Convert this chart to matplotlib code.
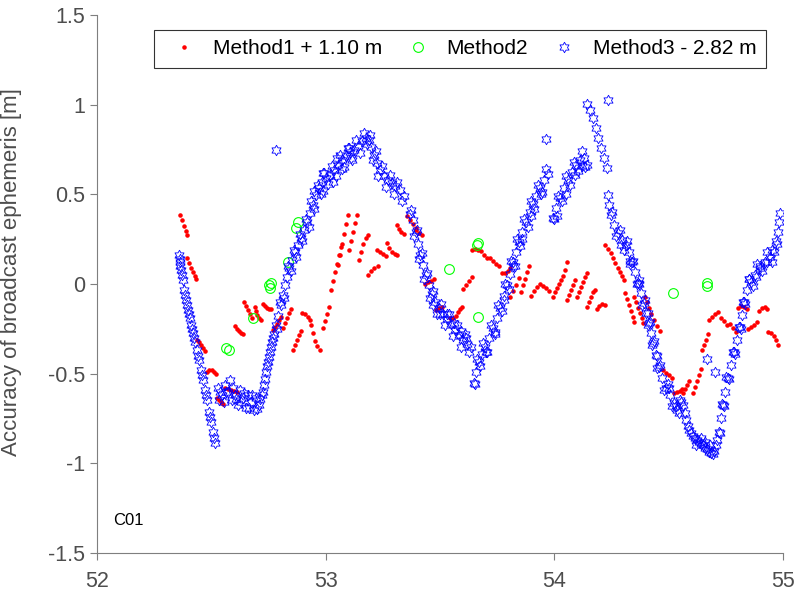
import matplotlib.pyplot as plt
from matplotlib.path import Path
import numpy as np

plt.rcParams['font.family'] = ['Liberation Sans Narrow', 'Liberation Sans', 'DejaVu Sans']

# ---- Method1 + 1.10 m (red dots) ----
m1_x = [52.363, 52.372, 52.380, 52.389, 52.394,
        52.394, 52.402, 52.411, 52.420, 52.429, 52.433,
        52.437, 52.446, 52.455, 52.464, 52.472,
        52.481, 52.490, 52.503, 52.512, 52.520,
        52.525, 52.534, 52.542, 52.551,
        52.560, 52.573, 52.586, 52.599, 52.612,
        52.603, 52.612, 52.621, 52.630, 52.638,
        52.643, 52.652, 52.660, 52.669, 52.678,
        52.691, 52.695, 52.700, 52.708, 52.717,
        52.726, 52.735, 52.743, 52.752, 52.761,
        52.770, 52.778, 52.787, 52.796, 52.805,
        52.813, 52.822, 52.831, 52.840, 52.848,
        52.857, 52.866, 52.875, 52.883, 52.892,
        52.896, 52.910, 52.923, 52.931,
        52.936, 52.945, 52.953, 52.962, 52.975,
        52.988, 52.997, 53.006, 53.014, 53.023, 53.032, 53.041, 53.049, 53.058, 53.067,
        53.054, 53.063, 53.071, 53.080, 53.089, 53.098,
        53.102, 53.111, 53.120, 53.128, 53.137,
        53.146, 53.154, 53.163, 53.176, 53.185,
        53.185, 53.198, 53.211, 53.229,
        53.224, 53.238, 53.251, 53.264,
        53.268, 53.277, 53.290, 53.303, 53.312,
        53.312, 53.321, 53.329, 53.342,
        53.356, 53.369, 53.382, 53.395,
        53.395, 53.408, 53.421,
        53.434, 53.447, 53.461, 53.474,
        53.482, 53.496, 53.509,
        53.544, 53.557, 53.570, 53.579, 53.588, 53.596,
        53.600, 53.614, 53.627, 53.640,
        53.640, 53.653, 53.666, 53.679, 53.692, 53.706, 53.719, 53.732, 53.745, 53.758,
        53.771, 53.784, 53.797, 53.806,
        53.806, 53.819, 53.832, 53.845,
        53.854, 53.863, 53.872, 53.880, 53.889,
        53.898, 53.911, 53.924, 53.937, 53.950, 53.963, 53.976,
        53.994, 54.003, 54.012, 54.020, 54.029, 54.038, 54.047, 54.055,
        54.055, 54.064, 54.073, 54.082, 54.090,
        54.099, 54.108, 54.117, 54.125, 54.134, 54.143,
        54.143, 54.151, 54.160, 54.169, 54.178,
        54.186, 54.195, 54.208, 54.222,
        54.222, 54.235, 54.248, 54.257, 54.265, 54.278, 54.287, 54.296, 54.305,
        54.309, 54.318, 54.326, 54.335, 54.344, 54.348,
        54.348, 54.357, 54.366, 54.375, 54.383, 54.388,
        54.396, 54.405, 54.414, 54.423, 54.436, 54.449, 54.462,
        54.475, 54.488, 54.501, 54.514,
        54.523, 54.536, 54.549, 54.558,
        54.562, 54.571, 54.580, 54.589,
        54.606, 54.615, 54.624, 54.633, 54.641,
        54.645, 54.654, 54.663, 54.672,
        54.676, 54.689, 54.702, 54.716,
        54.729, 54.742, 54.755, 54.768, 54.781, 54.795,
        54.803, 54.816, 54.830, 54.843,
        54.847, 54.860, 54.873, 54.886,
        54.895, 54.908, 54.921, 54.930,
        54.934, 54.947, 54.961, 54.969, 54.978]
m1_y = [0.385, 0.357, 0.323, 0.296, 0.273,
        0.145, 0.117, 0.089, 0.067, 0.045, 0.028,
        -0.312, -0.323, -0.340, -0.357, -0.374,
        -0.491, -0.480, -0.480, -0.491, -0.502,
        -0.636, -0.647, -0.658, -0.669,
        -0.580, -0.586, -0.591, -0.597, -0.602,
        -0.234, -0.251, -0.262, -0.273, -0.279,
        -0.100, -0.123, -0.145, -0.167, -0.190,
        -0.128, -0.151, -0.173, -0.190, -0.201,
        -0.112, -0.123, -0.134, -0.140, -0.140,
        -0.257, -0.240, -0.223, -0.201, -0.184,
        -0.245, -0.217, -0.190, -0.162, -0.140,
        -0.368, -0.340, -0.312, -0.284, -0.262,
        -0.162, -0.167, -0.184, -0.201,
        -0.229, -0.273, -0.318, -0.346, -0.368,
        -0.245, -0.206, -0.167, -0.128, -0.033, 0.017, 0.067, 0.112, 0.162, 0.206,
        0.106, 0.162, 0.223, 0.279, 0.335, 0.385,
        0.190, 0.240, 0.290, 0.340, 0.385,
        0.134, 0.178, 0.223, 0.257, 0.273,
        0.050, 0.073, 0.089, 0.100,
        0.190, 0.178, 0.167, 0.156,
        0.229, 0.201, 0.178, 0.167, 0.162,
        0.329, 0.307, 0.290, 0.279,
        0.379, 0.357, 0.335, 0.312,
        0.301, 0.284, 0.273,
        0.000, 0.011, 0.017, 0.028,
        -0.145, -0.134, -0.128,
        -0.190, -0.190, -0.178, -0.156, -0.140, -0.128,
        -0.028, -0.006, 0.017, 0.039,
        0.190, 0.195, 0.190, 0.184, 0.162, 0.145, 0.145, 0.128, 0.112, 0.100,
        0.061, 0.061, 0.073, 0.089,
        -0.073, -0.039, -0.006, 0.033,
        -0.045, -0.006, 0.028, 0.067, 0.100,
        -0.067, -0.039, -0.017, 0.000, -0.011, -0.022, -0.039,
        -0.073, -0.045, -0.022, 0.000, 0.022, 0.045, 0.078, 0.123,
        -0.089, -0.061, -0.033, -0.006, 0.022,
        -0.073, -0.045, -0.017, 0.011, 0.039, 0.061,
        -0.128, -0.100, -0.073, -0.045, -0.033,
        -0.139, -0.123, -0.112, -0.117,
        0.217, 0.195, 0.173, 0.145, 0.117, 0.089, 0.067, 0.045, 0.022,
        -0.050, -0.084, -0.117, -0.151, -0.184, -0.212,
        -0.073, -0.100, -0.134, -0.162, -0.190, -0.217,
        -0.073, -0.100, -0.134, -0.167, -0.201, -0.234, -0.262,
        -0.480, -0.496, -0.507, -0.524,
        -0.608, -0.602, -0.597, -0.586,
        -0.608, -0.586, -0.563, -0.541,
        -0.608, -0.574, -0.541, -0.507, -0.474,
        -0.368, -0.340, -0.312, -0.279,
        -0.201, -0.184, -0.167, -0.156,
        -0.190, -0.206, -0.229, -0.223, -0.245, -0.268,
        -0.134, -0.123, -0.128, -0.140,
        -0.251, -0.240, -0.229, -0.212,
        -0.151, -0.134, -0.128, -0.140,
        -0.268, -0.273, -0.290, -0.312, -0.340]

# ---- Method2 (green circles) ----
m2_x = [52.564, 52.577, 52.682, 52.752, 52.761, 52.757, 52.835, 52.870, 52.879,
        53.666, 53.662, 53.539, 53.666, 54.519, 54.668, 54.668]
m2_y = [-0.357, -0.368, -0.190, -0.006, 0.006, -0.022, 0.123, 0.312, 0.346,
        0.229, 0.217, 0.084, -0.184, -0.050, -0.011, 0.006]

# ---- Method3 - 2.82 m (blue hexagrams), main trace ----
m3_x = [52.359, 52.363, 52.367, 52.376, 52.380, 52.389, 52.398, 52.407, 52.411, 52.420,
        52.429, 52.437, 52.446, 52.455, 52.464, 52.472, 52.481, 52.490, 52.499, 52.507,
        52.516, 52.529, 52.533, 52.547, 52.560, 52.573, 52.582, 52.590, 52.603, 52.617,
        52.625, 52.638, 52.652, 52.660, 52.673, 52.687, 52.695, 52.708, 52.722, 52.730,
        52.739, 52.748, 52.757, 52.765, 52.774, 52.783, 52.792, 52.805, 52.813, 52.822,
        52.831, 52.840, 52.853, 52.866, 52.879, 52.892, 52.905, 52.918, 52.931, 52.945,
        52.958, 52.971, 52.984, 53.001, 53.019, 53.036, 53.054, 53.071, 53.089, 53.106,
        53.124, 53.141, 53.159, 53.176, 53.189, 53.198, 53.211, 53.224, 53.238, 53.255,
        53.273, 53.290, 53.303, 53.325, 53.342,
        53.369, 53.382, 53.395, 53.404, 53.413, 53.426, 53.439, 53.452, 53.465, 53.478,
        53.496, 53.513, 53.531, 53.548, 53.566, 53.583, 53.600, 53.618, 53.635,
        53.649, 53.657, 53.670, 53.684, 53.697, 53.714, 53.732, 53.749, 53.762, 53.780,
        53.793, 53.806, 53.819, 53.832, 53.845, 53.859, 53.876, 53.893, 53.907, 53.920,
        53.937, 53.955, 53.972,
        53.994, 54.007, 54.025, 54.042, 54.060, 54.077, 54.095, 54.112, 54.130, 54.143,
        54.143, 54.156, 54.169, 54.182, 54.191, 54.204, 54.217, 54.230,
        54.235, 54.239, 54.248, 54.261, 54.278, 54.296, 54.313, 54.326, 54.340, 54.353,
        54.366, 54.379, 54.392, 54.401, 54.414, 54.423, 54.431, 54.444, 54.458, 54.471,
        54.488, 54.506, 54.523, 54.536, 54.549, 54.562, 54.576, 54.589, 54.606, 54.624,
        54.641, 54.659, 54.676, 54.694, 54.707, 54.720, 54.729, 54.738, 54.746, 54.759,
        54.773, 54.786, 54.799, 54.812, 54.821, 54.830, 54.843, 54.860, 54.878, 54.899,
        54.921, 54.943, 54.961, 54.974, 54.978, 54.982, 54.987,
        52.783, 53.964, 54.235, 54.668, 54.703]
m3_y = [0.162, 0.123, 0.078, 0.022, -0.033, -0.089, -0.145, -0.190, -0.229, -0.273,
        -0.323, -0.368, -0.424, -0.480, -0.535, -0.591, -0.647, -0.714, -0.770, -0.825,
        -0.887, -0.580, -0.647, -0.619, -0.563, -0.602, -0.535, -0.647, -0.619, -0.675,
        -0.591, -0.636, -0.691, -0.619, -0.658, -0.703, -0.636, -0.675, -0.619, -0.563,
        -0.491, -0.435, -0.379, -0.323, -0.279, -0.229, -0.178, -0.117, -0.061, -0.006,
        0.039, 0.089, 0.134, 0.178, 0.217, 0.257, 0.301, 0.346, 0.396, 0.441,
        0.496, 0.535, 0.569, 0.591, 0.608, 0.636, 0.664, 0.691, 0.714, 0.736,
        0.747, 0.770, 0.797, 0.814, 0.803, 0.764, 0.719, 0.675, 0.636, 0.602,
        0.580, 0.563, 0.546, 0.524, 0.491,
        0.390, 0.357, 0.290, 0.223, 0.162, 0.106, 0.050, -0.006, -0.056, -0.100,
        -0.134, -0.167, -0.195, -0.223, -0.257, -0.284, -0.312, -0.335, -0.351,
        -0.552, -0.491, -0.435, -0.390, -0.351, -0.301, -0.245, -0.190, -0.134, -0.067,
        -0.006, 0.056, 0.123, 0.178, 0.234, 0.290, 0.346, 0.401, 0.446, 0.491,
        0.535, 0.580, 0.613,
        0.368, 0.424, 0.480, 0.535, 0.580, 0.625, 0.664, 0.691, 0.703, 0.664,
        1.004, 0.970, 0.926, 0.870, 0.814, 0.758, 0.703, 0.647,
        0.496, 0.441, 0.385, 0.329, 0.284, 0.245, 0.217, 0.178, 0.123, 0.067,
        0.006, -0.050, -0.106, -0.162, -0.217, -0.273, -0.329, -0.396, -0.463, -0.524,
        -0.580, -0.619, -0.664, -0.703, -0.647, -0.675, -0.758, -0.814, -0.848, -0.870,
        -0.892, -0.915, -0.937, -0.948, -0.898, -0.825, -0.747, -0.675, -0.602, -0.524,
        -0.452, -0.379, -0.312, -0.240, -0.173, -0.100, -0.033, 0.011, 0.050, 0.089,
        0.123, 0.151, 0.178, 0.223, 0.290, 0.346, 0.396,
        0.747, 0.809, 1.026, -0.418, -0.491]

m3b_x = [52.361, 52.365, 52.372, 52.384, 52.393, 52.402, 52.416, 52.425, 52.441, 52.460,
         52.477, 52.494, 52.511, 52.540, 52.555, 52.565, 52.595, 52.610, 52.630, 52.645,
         52.665, 52.680, 52.700, 52.715, 52.728, 52.735, 52.744, 52.752, 52.761, 52.770,
         52.787, 52.800, 52.818, 52.836, 52.848, 52.860, 52.872, 52.886, 52.898, 52.912,
         52.925, 52.938, 52.951, 52.965, 52.978, 52.993, 53.010, 53.028, 53.045, 53.062,
         53.080, 53.098, 53.115, 53.133, 53.150, 53.168, 53.182, 53.194, 53.205, 53.218,
         53.231, 53.246, 53.264, 53.282, 53.297, 53.314, 53.333,
         52.990, 53.030, 53.070, 53.110, 52.950, 52.990, 53.050, 53.100,
         53.375, 53.388, 53.400, 53.409, 53.420, 53.432, 53.445, 53.458, 53.471, 53.487,
         53.505, 53.522, 53.540, 53.557, 53.575, 53.592, 53.609, 53.627, 53.470, 53.500,
         53.530, 53.560, 53.590, 53.615,
         53.653, 53.664, 53.677, 53.690, 53.705, 53.723, 53.740, 53.755, 53.771, 53.786,
         53.800, 53.812, 53.826, 53.838, 53.852, 53.867, 53.884, 53.900, 53.913, 53.928,
         53.946, 53.963, 53.700, 53.740, 53.780, 53.820, 53.860, 53.900, 53.940,
         54.000, 54.016, 54.033, 54.051, 54.068, 54.086, 54.104, 54.121, 54.136, 54.010,
         54.050, 54.090, 54.120,
         54.252, 54.270, 54.287, 54.305, 54.320, 54.333, 54.346, 54.360, 54.372, 54.385,
         54.396, 54.408, 54.418, 54.427, 54.438, 54.451, 54.464, 54.480, 54.497, 54.515,
         54.290, 54.330, 54.370, 54.410, 54.450, 54.500, 54.530, 54.545, 54.555,
         54.570, 54.583, 54.598, 54.615, 54.632, 54.650, 54.668, 54.685, 54.700, 54.640,
         54.680, 54.710, 54.620, 54.660,
         54.725, 54.733, 54.742, 54.752, 54.766, 54.780, 54.792, 54.806, 54.817, 54.826,
         54.836, 54.852, 54.869, 54.888, 54.910, 54.932, 54.952, 54.968, 54.850, 54.900,
         54.950, 54.880, 54.930]
m3b_y = [0.140, 0.100, 0.050, -0.060, -0.120, -0.170, -0.250, -0.300, -0.400, -0.510,
         -0.620, -0.740, -0.860, -0.600, -0.660, -0.600, -0.580, -0.640, -0.660, -0.610,
         -0.690, -0.620, -0.700, -0.640, -0.600, -0.530, -0.460, -0.410, -0.350, -0.300,
         -0.250, -0.100, -0.080, 0.100, 0.070, 0.190, 0.150, 0.280, 0.240, 0.360,
         0.320, 0.460, 0.420, 0.550, 0.500, 0.620, 0.560, 0.660, 0.600, 0.720,
         0.650, 0.760, 0.690, 0.800, 0.730, 0.840, 0.780, 0.830, 0.690, 0.740,
         0.600, 0.660, 0.540, 0.610, 0.500, 0.570, 0.460,
         0.520, 0.570, 0.640, 0.700, 0.520, 0.620, 0.700, 0.760,
         0.410, 0.270, 0.300, 0.140, 0.170, 0.030, 0.060, -0.080, -0.040, -0.170,
         -0.110, -0.230, -0.170, -0.290, -0.230, -0.350, -0.280, -0.380, -0.120, -0.170,
         -0.170, -0.220, -0.260, -0.300,
         -0.560, -0.420, -0.460, -0.330, -0.380, -0.230, -0.270, -0.120, -0.150, 0.000,
         -0.030, 0.130, 0.100, 0.250, 0.210, 0.360, 0.320, 0.460, 0.420, 0.550,
         0.510, 0.640, -0.380, -0.280, -0.090, 0.100, 0.250, 0.380, 0.500,
         0.360, 0.490, 0.460, 0.600, 0.550, 0.680, 0.630, 0.740, 0.650, 0.380,
         0.500, 0.610, 0.660,
         0.400, 0.270, 0.300, 0.190, 0.240, 0.110, 0.130, 0.000, 0.020, -0.120,
         -0.090, -0.230, -0.210, -0.340, -0.320, -0.470, -0.450, -0.590, -0.560, -0.680,
         0.220, 0.130, 0.000, -0.160, -0.400, -0.580, -0.680, -0.720, -0.660,
         -0.720, -0.790, -0.830, -0.860, -0.880, -0.900, -0.920, -0.940, -0.930, -0.860,
         -0.900, -0.870, -0.900, -0.880,
         -0.830, -0.670, -0.680, -0.520, -0.530, -0.380, -0.390, -0.240, -0.250, -0.100,
         -0.110, 0.030, -0.010, 0.110, 0.070, 0.180, 0.120, 0.240, 0.030, 0.100,
         0.190, 0.040, 0.120]

x_ticks = [52, 53, 54, 55]
y_ticks = [-1.5, -1, -0.5, 0, 0.5, 1, 1.5]
y_tick_labels = ["-1.5", "-1", "-0.5", "0", "0.5", "1", "1.5"]

# six-pointed star (hexagram) marker outline
ang = np.deg2rad(np.arange(12) * 30 + 90)
rad = np.where(np.arange(12) % 2 == 0, 1.0, 0.577)
star_verts = np.column_stack([rad * np.cos(ang), rad * np.sin(ang)])
hexagram = Path(np.vstack([star_verts, star_verts[:1]]), closed=True)

fig = plt.figure(figsize=(8.01, 5.98), dpi=100)
ax = fig.add_axes([0.1211, 0.0753, 0.8564, 0.8997])

ax.plot(m1_x, m1_y, '.', color='red', markersize=4.5, label="Method1 + 1.10 m")
ax.plot(m2_x, m2_y, 'o', color='#00ff00', markerfacecolor='none', markersize=7,
        markeredgewidth=0.8, label="Method2")
ax.plot(m3_x + m3b_x, m3_y + m3b_y, linestyle='none', marker=hexagram, color='blue',
        markerfacecolor='none', markersize=7.5, markeredgewidth=0.6,
        label="Method3 - 2.82 m")

ax.set_xlim(52, 55)
ax.set_ylim(-1.5, 1.5)
ax.set_xticks(x_ticks)
ax.set_yticks(y_ticks)
ax.set_yticklabels(y_tick_labels)

grey = '#4d4d4d'
for side in ['top', 'right']:
    ax.spines[side].set_visible(False)
for side in ['left', 'bottom']:
    ax.spines[side].set_color('#7f7f7f')
    ax.spines[side].set_linewidth(0.8)
ax.tick_params(direction='out', length=5, width=0.8, color='#7f7f7f',
               labelcolor=grey, labelsize=15.5)
ax.tick_params(axis='x', pad=8)

ax.set_ylabel("Accuracy of broadcast ephemeris [m]", fontsize=16, color=grey)
ax.yaxis.set_label_coords(-0.109, 0.522)
ax.text(52.07, -1.32, "C01", fontsize=12, color='black', va='center')

leg = ax.legend(loc='upper right', bbox_to_anchor=(0.975, 0.972), borderaxespad=0,
                ncol=3, fontsize=15, frameon=True, fancybox=False, edgecolor='black',
                handlelength=2.0, columnspacing=0.7, borderpad=0.45,
                handletextpad=0.4, markerscale=1.0)
leg.get_frame().set_linewidth(0.8)

fig.savefig("out.png", dpi=100)
